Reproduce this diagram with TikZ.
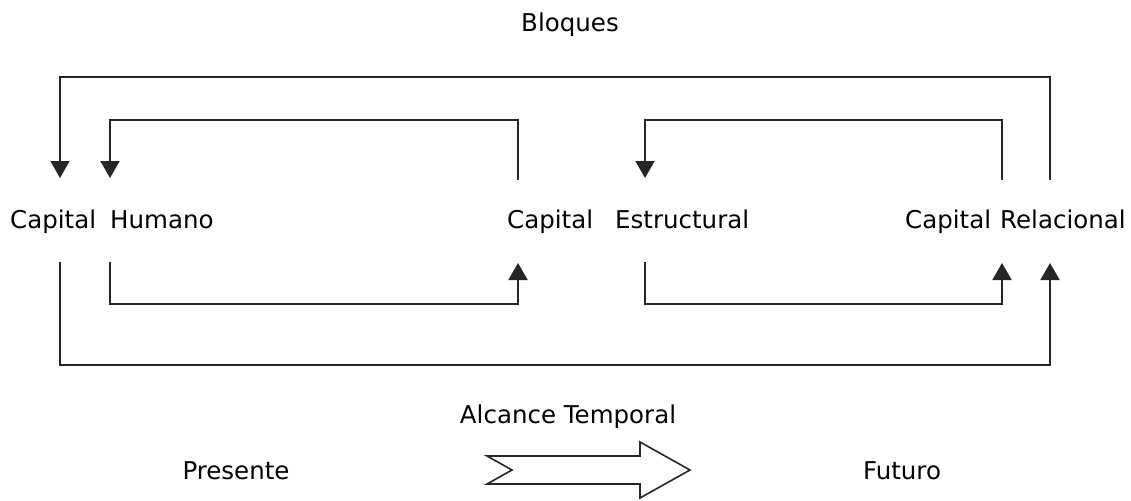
\documentclass[tikz,border=0pt]{standalone}
\usepackage{fontspec}
\setmainfont{DejaVu Sans}
\usetikzlibrary{arrows.meta}
\begin{document}
\begin{tikzpicture}[x=1pt,y=-1pt,
  lbl/.style={inner sep=0pt,anchor=base west,font=\fontsize{24.5}{28}\selectfont},
  ctr/.style={inner sep=0pt,anchor=base,font=\fontsize{24.5}{28}\selectfont},
  link/.style={draw=black!85,line width=2pt},
  arr/.style={link,-{Triangle[width=19pt,length=17pt]}},
  bigarrow/.style={draw=black!85,line width=1.6pt,line join=miter,fill=white}]
\useasboundingbox (0,0) rectangle (1131,500);

% titles
\node[ctr] (bloques) at (570,32) {Bloques};
\node[ctr] (alcance) at (568,423) {Alcance Temporal};
\node[ctr] (presente) at (236,479) {Presente};
\node[ctr] (futuro) at (902,479) {Futuro};

% the three capitals
\node[lbl] (ch1) at (10,228) {Capital};
\node[lbl] (ch2) at (110,228) {Humano};
\node[lbl] (ce1) at (507,228) {Capital};
\node[lbl] (ce2) at (615,228) {Estructural};
\node[lbl] (cr1) at (905,228) {Capital};
\node[lbl] (cr2) at (1000,228) {Relacional};

% connector end points above and below the labels
\coordinate (hOutTop) at (60,178);   \coordinate (hInTop) at (110,178);
\coordinate (eOutTop) at (518,180);  \coordinate (eInTop) at (645,178);
\coordinate (rInTop) at (1002,180);  \coordinate (rOutTop) at (1050,180);
\coordinate (hOutBot) at (60,262);   \coordinate (hInBot) at (110,262);
\coordinate (eOutBot) at (518,263);  \coordinate (eInBot) at (645,262);
\coordinate (rInBot) at (1002,263);  \coordinate (rOutBot) at (1050,263);

% upper loops
\draw[arr] (rOutTop) -- (1050,77) -- (60,77) -- (hOutTop);
\draw[arr] (eOutTop) -- (518,120) -- (110,120) -- (hInTop);
\draw[arr] (rInTop) -- (1002,120) -- (645,120) -- (eInTop);

% lower loops
\draw[arr] (hInBot) -- (110,304) -- (518,304) -- (eOutBot);
\draw[arr] (eInBot) -- (645,304) -- (1002,304) -- (rInBot);
\draw[arr] (hOutBot) -- (60,365) -- (1050,365) -- (rOutBot);

% time arrow
\draw[bigarrow] (487,456) -- (640,456) -- (640,442) -- (690,470)
  -- (640,498) -- (640,484) -- (487,484) -- (512,470) -- cycle;
\end{tikzpicture}
\end{document}
